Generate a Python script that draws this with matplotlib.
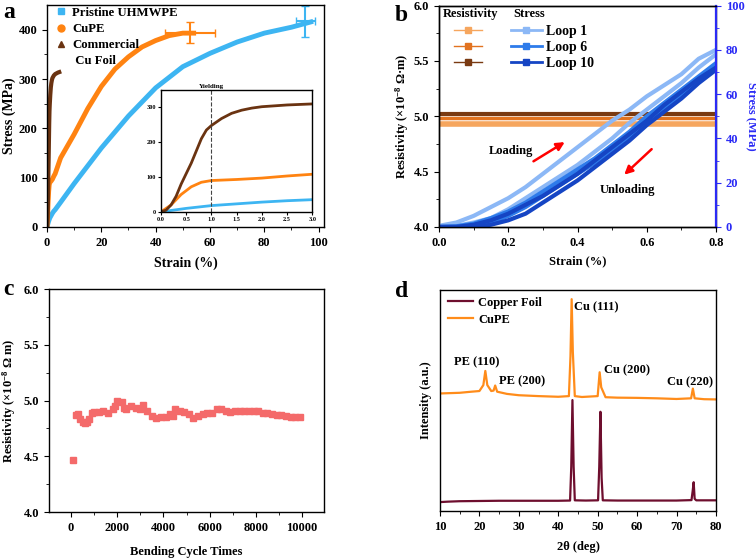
import numpy as np
import matplotlib
matplotlib.use("Agg")
import matplotlib.pyplot as plt
from matplotlib.lines import Line2D

plt.rcParams['font.family'] = ['Liberation Serif', 'DejaVu Serif']
plt.rcParams['font.weight'] = 'bold'
plt.rcParams['axes.labelweight'] = 'bold'
plt.rcParams['mathtext.fontset'] = 'custom'
plt.rcParams['mathtext.rm'] = 'Liberation Serif:bold'
plt.rcParams['mathtext.bf'] = 'Liberation Serif:bold'
plt.rcParams['mathtext.it'] = 'Liberation Serif:bold'
plt.rcParams['axes.linewidth'] = 1.0
plt.rcParams['xtick.major.size'] = 3.5
plt.rcParams['ytick.major.size'] = 3.5
plt.rcParams['xtick.minor.size'] = 2
plt.rcParams['ytick.minor.size'] = 2

# ---- panel a : tensile curves ----
pe_strain = [0, 0.2, 0.5, 1.0, 1.5, 2.0, 2.5, 3.0, 5, 10, 20, 30, 40, 50, 60, 70, 80, 90, 98]
pe_stress = [0, 4, 10, 18, 23, 28, 32, 35, 50, 88, 160, 225, 282, 325, 352, 375, 393, 405, 417]
cupe_strain = [0, 0.2, 0.4, 0.6, 0.8, 1.0, 1.5, 2.0, 2.5, 3.0, 5, 10, 15, 20, 25, 30, 35, 40, 45, 50, 54]
cupe_stress = [0, 20, 50, 72, 85, 90, 93, 97, 103, 108, 140, 188, 240, 285, 320, 345, 365, 378, 388, 393, 393]
cu_strain = [0, 0.1, 0.2, 0.3, 0.4, 0.5, 0.6, 0.7, 0.8, 0.9, 1.0, 1.2, 1.4, 1.6, 1.8, 2.0, 2.5, 3.0, 4.0, 4.5]
cu_stress = [0, 5, 20, 45, 80, 110, 140, 175, 210, 235, 248, 268, 283, 292, 298, 302, 307, 310, 313, 314]
err_pe = (95.0, 417, 3.5, 32)
err_cupe = (52.7, 394, 9.2, 22)

# ---- panel b : cyclic loading ----
loop_strain = [0, 0.05, 0.1, 0.15, 0.2, 0.25, 0.3, 0.35, 0.4, 0.45, 0.5, 0.55, 0.6, 0.65, 0.7, 0.75, 0.8]
loop1_up = [0.5, 2, 5, 9, 13, 18, 24, 30, 36, 42, 48, 53, 59, 64, 69, 76, 80]
loop1_down = [0, 0.5, 2, 4, 8, 13, 18, 23, 28, 34, 40, 47, 53, 59, 65, 72, 78]
loop6_up = [0, 0.3, 1.5, 4, 7, 11, 16, 21, 26, 31, 37, 43, 50, 56, 62, 68, 74]
loop6_down = [0, 0, 0.5, 2, 5, 9, 14, 19, 24, 29, 35, 41, 47, 53, 60, 66, 72]
loop10_up = [0, 0, 1, 3, 6, 10, 14, 19, 24, 30, 36, 42, 48, 55, 61, 67, 72]
loop10_down = [0, 0, 0, 1, 3, 6, 11, 16, 21, 27, 33, 39, 46, 52, 58, 65, 71]
res_strain = [0, 0.8]
res_loop1 = [4.93, 4.93]
res_loop6 = [4.985, 4.985]
res_loop10 = [5.02, 5.02]

# ---- panel c : bending cycles ----
cycles = [100, 200, 300, 400, 500, 600, 700, 800, 900, 1000, 1200, 1400, 1600, 1800, 1900,
          2000, 2200, 2300, 2400, 2600, 2800, 3000, 3100, 3300, 3500, 3700, 3900, 4100,
          4300, 4400, 4500, 4700, 4900, 5100, 5300, 5500, 5700, 5900, 6100, 6300, 6500,
          6700, 6900, 7100, 7300, 7500, 7700, 7900, 8100, 8300, 8500, 8700, 8900, 9100,
          9300, 9500, 9700, 9900]
resist = [4.47, 4.87, 4.88, 4.83, 4.81, 4.80, 4.81, 4.83, 4.89, 4.90, 4.90, 4.91, 4.89,
          4.92, 4.95, 5.00, 4.99, 4.93, 4.92, 4.95, 4.93, 4.92, 4.96, 4.91, 4.86, 4.84,
          4.85, 4.85, 4.88, 4.86, 4.92, 4.91, 4.90, 4.88, 4.84, 4.86, 4.88, 4.89, 4.89,
          4.92, 4.92, 4.91, 4.90, 4.91, 4.91, 4.91, 4.91, 4.91, 4.91, 4.89, 4.89, 4.88,
          4.87, 4.87, 4.86, 4.85, 4.85, 4.85]

# ---- panel d : XRD ----
cu_2t = [10, 12, 15, 20, 25, 30, 35, 40, 43.0, 43.3, 43.6, 43.9, 44.2, 47, 50.1, 50.4, 50.7,
         51.0, 51.3, 55, 60, 65, 70, 73.8, 74.1, 74.35, 74.6, 75, 80]
cu_int = [4.0, 4.2, 4.4, 4.5, 4.6, 4.6, 4.6, 4.6, 4.7, 20, 50.2, 20, 4.8, 4.7, 4.8, 20, 44.9,
          15, 4.8, 4.7, 4.7, 4.7, 4.7, 4.9, 9, 13.0, 5.5, 4.8, 4.8]
cupe_2t = [10, 15, 18, 20, 21.0, 21.5, 22.0, 23.0, 23.6, 24.0, 24.5, 27, 30, 35, 40, 42.7, 43.1,
           43.4, 43.7, 44.2, 46, 50.0, 50.5, 50.9, 52, 55, 60, 65, 70, 73.7, 74.15, 74.6, 77, 80]
cupe_int = [53.2, 53.5, 54.0, 54.3, 57, 63.4, 57, 54.3, 54.5, 56.8, 54, 53, 52.4, 52, 51.7, 52,
            70, 95.9, 72, 52, 51.6, 52, 62.8, 56, 51.5, 51.3, 51.2, 51, 50.7, 51, 55.4, 51, 50.6, 50.5]

blue_a = '#3DB5F2'
orange_a = '#FF8311'
brown_a = '#6A3311'

fig = plt.figure(figsize=(7.56, 5.59), dpi=100)

# ================= a =================
ax = fig.add_axes([0.0622, 0.594, 0.3664, 0.397])
ax.plot(pe_strain, pe_stress, color=blue_a, lw=3.5, solid_capstyle='butt')
ax.plot(cupe_strain, cupe_stress, color=orange_a, lw=3.5)
ax.plot(cu_strain, cu_stress, color=brown_a, lw=3)
ax.errorbar(err_pe[0], err_pe[1], xerr=err_pe[2], yerr=err_pe[3], color=blue_a, lw=1.5, capsize=3)
ax.errorbar(err_cupe[0], err_cupe[1], xerr=err_cupe[2], yerr=err_cupe[3], color=orange_a, lw=1.5, capsize=3)
ax.set_xlim(0, 102)
ax.set_ylim(0, 450)
ax.set_xticks([0, 20, 40, 60, 80, 100])
ax.set_xticks([10, 30, 50, 70, 90], minor=True)
ax.set_yticks([0, 100, 200, 300, 400])
ax.set_yticks([50, 150, 250, 350], minor=True)
ax.tick_params(labelsize=9)
ax.set_xlabel('Strain (%)', fontsize=10, labelpad=6)
ax.set_ylabel('Stress (MPa)', fontsize=10, labelpad=2)
handles = [Line2D([], [], ls='none', marker='s', color=blue_a, markersize=4),
           Line2D([], [], ls='none', marker='o', color=orange_a, markersize=5),
           Line2D([], [], ls='none', marker='^', color=brown_a, markersize=5),
           Line2D([], [], ls='none', marker='none')]
ax.legend(handles, ['Pristine UHMWPE', 'CuPE', 'Commercial', ' Cu Foil'], loc='upper left',
          bbox_to_anchor=(0.025, 1.0), frameon=False, fontsize=9.2, handlelength=0.8,
          handletextpad=0.5, labelspacing=0.32, borderpad=0.15, borderaxespad=0)

ins = fig.add_axes([0.213, 0.621, 0.2, 0.218])
ins.plot(pe_strain, pe_stress, color=blue_a, lw=2)
ins.plot(cupe_strain, cupe_stress, color=orange_a, lw=2)
ins.plot(cu_strain, cu_stress, color=brown_a, lw=2)
ins.axvline(1.0, color='#444444', ls='--', lw=0.8)
ins.set_xlim(0, 3)
ins.set_ylim(0, 350)
ins.set_xticks([0, 0.5, 1.0, 1.5, 2.0, 2.5, 3.0])
ins.set_yticks([0, 100, 200, 300])
ins.tick_params(labelsize=4.5, length=2, pad=1.5)
ins.text(1.0, 352, 'Yielding', fontsize=5, ha='center', va='bottom')

fig.text(0.004, 0.968, 'a', fontsize=17, fontweight='bold')

# ================= b =================
lb1, lb2, lb3 = '#8CB8F6', '#2E7BEA', '#1545C4'
or1, or2, or3 = '#F6A65E', '#E27320', '#7A3A12'
bx = fig.add_axes([0.5807, 0.594, 0.3664, 0.396])
bx.plot(res_strain, res_loop1, color=or1, lw=4)
bx.plot(res_strain, res_loop6, color=or2, lw=2.5)
bx.plot(res_strain, res_loop10, color=or3, lw=3)
bx.set_xlim(0, 0.8)
bx.set_ylim(4.0, 6.0)
bx.set_xticks([0, 0.2, 0.4, 0.6, 0.8])
bx.set_xticks([0.1, 0.3, 0.5, 0.7], minor=True)
bx.set_yticks([4.0, 4.5, 5.0, 5.5, 6.0])
bx.set_yticks([4.25, 4.75, 5.25, 5.75], minor=True)
bx.tick_params(labelsize=9)
bx.set_xlabel('Strain (%)', fontsize=9, labelpad=5)
bx.set_ylabel('Resistivity (×10$^{-8}$ Ω·m)', fontsize=9, labelpad=2)

bx2 = bx.twinx()
bx2.plot(loop_strain, loop1_up, color=lb1, lw=3)
bx2.plot(loop_strain, loop1_down, color=lb1, lw=3)
bx2.plot(loop_strain, loop6_up, color=lb2, lw=3)
bx2.plot(loop_strain, loop6_down, color=lb2, lw=3)
bx2.plot(loop_strain, loop10_up, color=lb3, lw=3)
bx2.plot(loop_strain, loop10_down, color=lb3, lw=3)
bx2.set_ylim(0, 100)
bx2.set_yticks([0, 20, 40, 60, 80, 100])
bx2.set_yticks([10, 30, 50, 70, 90], minor=True)
blue_ax = '#2A2AF5'
bx2.spines['right'].set_color(blue_ax)
bx2.spines['right'].set_linewidth(1.6)
bx2.tick_params(axis='y', which='both', colors=blue_ax, labelsize=9)
bx2.set_ylabel('Stress (MPa)', fontsize=9, color=blue_ax, rotation=270, labelpad=9)

bx2.annotate('', xy=(0.370, 4.78), xytext=(0.266, 4.58), xycoords=bx.transData,
             textcoords=bx.transData,
             arrowprops=dict(arrowstyle='-|>', color='red', lw=1.8, mutation_scale=12))
bx2.annotate('', xy=(0.529, 4.455), xytext=(0.62, 4.72), xycoords=bx.transData,
             textcoords=bx.transData,
             arrowprops=dict(arrowstyle='-|>', color='red', lw=1.8, mutation_scale=12))
bx2.text(0.209, 4.69, 'Loading', transform=bx.transData, fontsize=9, ha='center', va='center')
bx2.text(0.545, 4.33, 'Unloading', transform=bx.transData, fontsize=9, ha='center', va='center')

bx2.text(0.015, 0.96, 'Resistivity', transform=bx.transAxes, fontsize=9, va='center')
bx2.text(0.27, 0.96, 'Stress', transform=bx.transAxes, fontsize=9, va='center')
rh = [Line2D([], [], color=c, lw=1, marker='s', markersize=4) for c in (or1, or2, or3)]
sh = [Line2D([], [], color=c, lw=2, marker='s', markersize=4) for c in (lb1, lb2, lb3)]
leg1 = bx2.legend(rh, ['', '', ''], loc='upper left', bbox_to_anchor=(0.055, 0.912),
                  frameon=False, fontsize=10, handlelength=2.0, labelspacing=0.2,
                  borderpad=0, borderaxespad=0, handletextpad=0)
bx2.add_artist(leg1)
bx2.legend(sh, ['Loop 1', 'Loop 6', 'Loop 10'], loc='upper left', bbox_to_anchor=(0.26, 0.912),
           frameon=False, fontsize=10, handlelength=2.2, labelspacing=0.2,
           borderpad=0, borderaxespad=0, handletextpad=0.35)

fig.text(0.522, 0.962, 'b', fontsize=17, fontweight='bold')

# ================= c =================
cx = fig.add_axes([0.0648, 0.084, 0.3638, 0.399])
cx.plot(cycles, resist, ls='none', marker='s', markersize=4, color='#F46A6A')
cx.set_xlim(-950, 10950)
cx.set_ylim(4.0, 6.0)
cx.set_xticks([0, 2000, 4000, 6000, 8000, 10000])
cx.set_xticks([1000, 3000, 5000, 7000, 9000], minor=True)
cx.set_yticks([4.0, 4.5, 5.0, 5.5, 6.0])
cx.set_yticks([4.25, 4.75, 5.25, 5.75], minor=True)
cx.tick_params(labelsize=9)
cx.set_xlabel('Bending Cycle Times', fontsize=9, labelpad=9)
cx.set_ylabel('Resistivity (×10$^{-8}$ Ω m)', fontsize=9, labelpad=4)
fig.text(0.004, 0.472, 'c', fontsize=17, fontweight='bold')

# ================= d =================
dx = fig.add_axes([0.582, 0.086, 0.365, 0.395])
dx.plot(cu_2t, cu_int, color='#6E0E2E', lw=1.6, label='Copper Foil')
dx.plot(cupe_2t, cupe_int, color='#FF8C1A', lw=1.6, label='CuPE')
dx.set_xlim(10, 80)
dx.set_ylim(0, 100)
dx.set_xticks([10, 20, 30, 40, 50, 60, 70, 80])
dx.set_xticks([15, 25, 35, 45, 55, 65, 75], minor=True)
dx.set_yticks([])
dx.tick_params(labelsize=9)
dx.set_xlabel('2θ (deg)', fontsize=9, labelpad=6)
dx.set_ylabel('Intensity (a.u.)', fontsize=9, labelpad=6)
dx.legend(loc='upper left', bbox_to_anchor=(0.03, 0.97), frameon=False, fontsize=9,
          handlelength=2.0, handletextpad=0.4, labelspacing=0.4, borderpad=0, borderaxespad=0)
dx.text(44.1, 92.1, 'Cu (111)', fontsize=9, va='center')
dx.text(13.5, 67.5, 'PE (110)', fontsize=9, va='center')
dx.text(24.9, 58.9, 'PE (200)', fontsize=9, va='center')
dx.text(51.5, 63.7, 'Cu (200)', fontsize=9, va='center')
dx.text(67.7, 58.3, 'Cu (220)', fontsize=9, va='center')
fig.text(0.523, 0.469, 'd', fontsize=17, fontweight='bold')

fig.savefig('out.png', dpi=100)
